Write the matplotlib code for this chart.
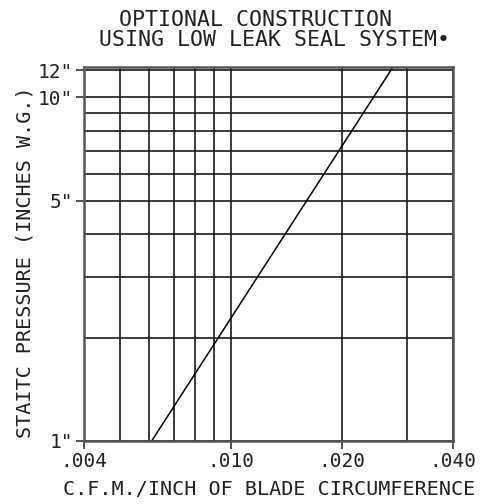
import numpy as np
import matplotlib
matplotlib.use('Agg')
import matplotlib.pyplot as plt

# data
cfm = [0.0061, 0.0275]          # C.F.M./inch of blade circumference
pressure = [1.0, 12.25]         # static pressure, inches W.G.

x_major = [0.004, 0.010, 0.020, 0.040]
x_labels = ['.004', '.010', '.020', '.040']
x_minor = [0.005, 0.006, 0.007, 0.008, 0.009, 0.030]
y_major = [1, 5, 10, 12]
y_labels = ['1"', '5"', '10"', '12"']
y_minor = [2, 3, 4, 6, 7, 8, 9]

plt.rcParams['font.family'] = ['DejaVu Sans Mono']

fig = plt.figure(figsize=(4.89, 5.04), dpi=100)
ax = fig.add_axes([0.1718, 0.125, 0.7546, 0.742])

ax.set_xscale('log')
ax.set_yscale('log')
ax.set_xlim(0.004, 0.040)
ax.set_ylim(1, 12.25)

ax.plot(cfm, pressure, color='black', lw=1.1)

ax.set_xticks(x_major)
ax.set_xticklabels(x_labels)
ax.set_xticks(x_minor, minor=True)
ax.set_xticklabels([], minor=True)
ax.set_yticks(y_major)
ax.set_yticklabels(y_labels)
ax.set_yticks(y_minor, minor=True)
ax.set_yticklabels([], minor=True)

ax.tick_params(which='major', direction='out', length=6, width=1.2,
               color='#333333', labelsize=14, pad=2, labelcolor='#222222')
ax.tick_params(which='minor', length=0)
ax.grid(which='both', color='#1a1a1a', lw=1.2)

for s in ax.spines.values():
    s.set_color('#555555')
    s.set_linewidth(1.8)

fig.text(0.522, 0.961, 'OPTIONAL CONSTRUCTION', ha='center', va='center',
         fontsize=15.5, color='#222222')
fig.text(0.562, 0.920, 'USING LOW LEAK SEAL SYSTEM\u2022', ha='center', va='center',
         fontsize=15.5, color='#222222')
fig.text(0.550, 0.028, 'C.F.M./INCH OF BLADE CIRCUMFERENCE', ha='center', va='center',
         fontsize=14.5, color='#222222')
fig.text(0.051, 0.48, 'STAITC PRESSURE (INCHES W.G.)', ha='center', va='center',
         rotation=90, fontsize=14.5, color='#222222')

fig.savefig('out.png', dpi=100)
